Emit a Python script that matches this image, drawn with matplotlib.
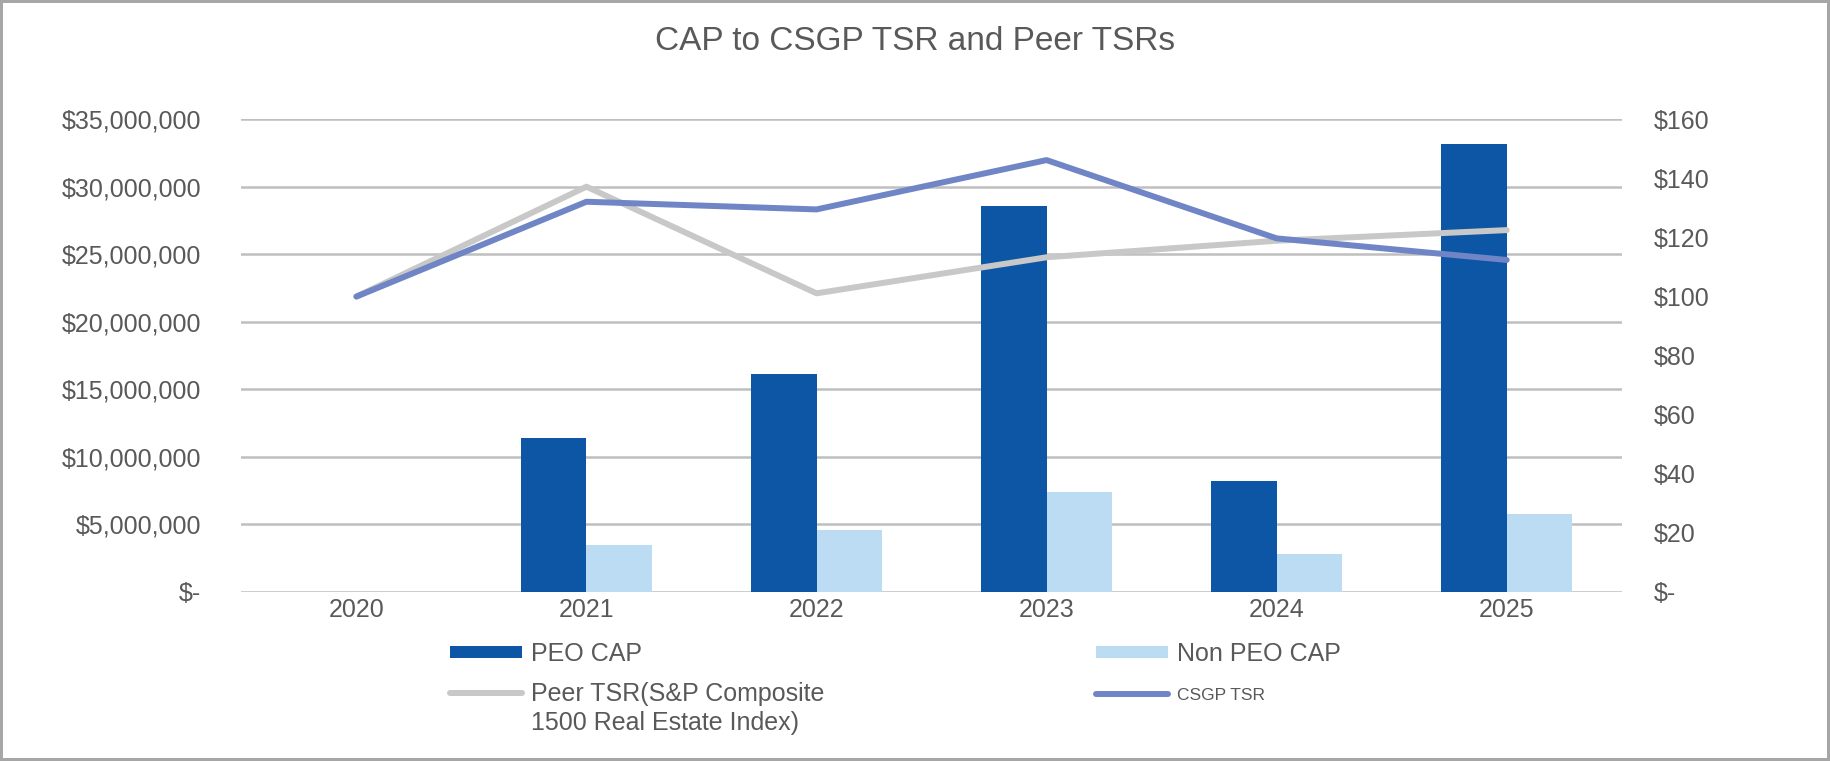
import numpy as np
import matplotlib
matplotlib.use('Agg')
import matplotlib.pyplot as plt
from matplotlib.patches import Rectangle
from matplotlib.ticker import FuncFormatter, MultipleLocator

plt.rcParams['font.family'] = ['Liberation Sans', 'DejaVu Sans']

years = ['2020', '2021', '2022', '2023', '2024', '2025']
peo_cap = [0, 11420000, 16160000, 28600000, 8190000, 33170000]
non_peo_cap = [0, 3480000, 4570000, 7400000, 2810000, 5750000]
peer_tsr = [100, 137.2, 101.1, 113.3, 118.9, 122.5]
csgp_tsr = [100, 132.1, 129.5, 146.2, 119.7, 112.4]

title = 'CAP to CSGP TSR and Peer TSRs'
labels = ['PEO CAP', 'Non PEO CAP', 'Peer TSR(S&P Composite', 'CSGP TSR']
peer_label_2 = '1500 Real Estate Index)'

TXT = '#595959'
W, H = 1830, 761

fig = plt.figure(figsize=(W / 100, H / 100), dpi=100)
ax = fig.add_axes([0.1319, 0.2221, 0.7543, 0.6211])
ax2 = ax.twinx()

x = np.arange(len(years))
bw = 0.284
b1 = ax.bar(x - bw / 2, peo_cap, bw, color='#0D56A6', linewidth=0)
b2 = ax.bar(x + bw / 2, non_peo_cap, bw, color='#BBDCF2', linewidth=0)

l1, = ax2.plot(x, peer_tsr, color='#C8C8C8', lw=4.3, solid_capstyle='round')
l2, = ax2.plot(x, csgp_tsr, color='#6F85C5', lw=4.3, solid_capstyle='round')

ax.set_xlim(-0.5, 5.5)
ax.set_ylim(0, 35000000)
ax2.set_ylim(0, 160)
ax.yaxis.set_major_locator(MultipleLocator(5000000))
ax2.yaxis.set_major_locator(MultipleLocator(20))
ax.yaxis.set_major_formatter(FuncFormatter(lambda v, p: '$-' if v == 0 else '${:,.0f}'.format(v)))
ax2.yaxis.set_major_formatter(FuncFormatter(lambda v, p: '$-' if v == 0 else '${:,.0f}'.format(v)))
ax.set_xticks(x)
ax.set_xticklabels(years)

ax.set_axisbelow(True)
ax.grid(axis='y', color='#BFBFBF', lw=1.8)
for a in (ax, ax2):
    for s in a.spines.values():
        s.set_visible(False)
ax.tick_params(axis='y', length=0, pad=29, labelsize=18, labelcolor=TXT)
ax.tick_params(axis='x', length=0, pad=4.5, labelsize=18, labelcolor=TXT)
ax2.tick_params(axis='y', length=0, pad=23.3, labelsize=18, labelcolor=TXT)

fig.text(0.5, 1 - 50 / H, title, ha='center', va='baseline', fontsize=24, color=TXT)

# legend entries placed one by one (handle left x, centre y in pixels)
entries = [(b1, labels[0], 18, 450, 654),
           (b2, labels[1], 18, 1096, 654),
           (l1, labels[2], 18, 450, 694),
           (l2, labels[3], 12.5, 1096, 695)]
legs = []
for h, lab, fs, px, py in entries:
    leg = fig.legend([h], [lab], loc='center left', bbox_to_anchor=(px / W, 1 - py / H),
                     bbox_transform=fig.transFigure, frameon=False, fontsize=fs,
                     borderpad=0, borderaxespad=0, handlelength=52 / fs,
                     handleheight=7.2 / fs, handletextpad=6.3 / fs, labelcolor=TXT)
    legs.append(leg)

fig.canvas.draw()
bb = legs[2].get_texts()[0].get_window_extent(fig.canvas.get_renderer())
fig.text(bb.x0 / W, (bb.y0 - 5) / H, peer_label_2, ha='left', va='top', fontsize=18, color=TXT)

fig.add_artist(Rectangle((0, 0), 1, 1, transform=fig.transFigure, fill=False,
                         edgecolor='#A6A6A6', linewidth=4.3))

plt.savefig('out.png', dpi=100)
plt.close()
